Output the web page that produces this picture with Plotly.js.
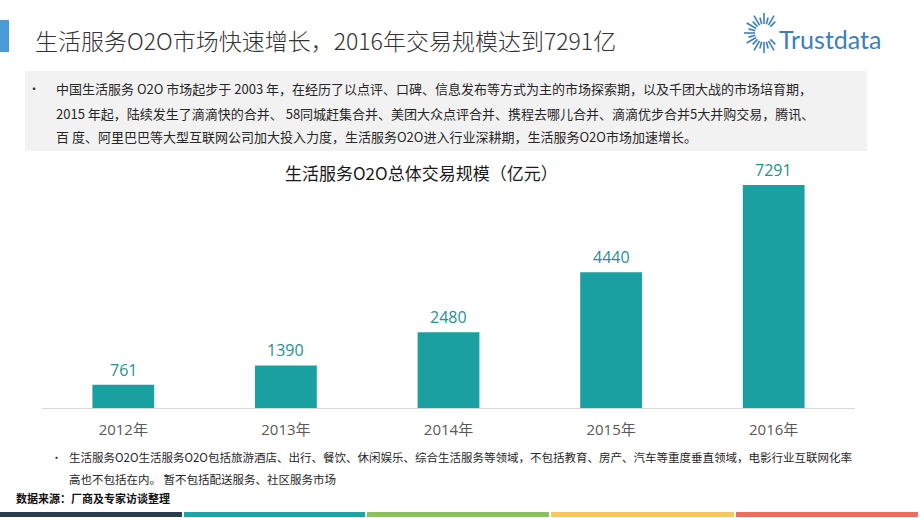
<!DOCTYPE html>
<html>
<head>
<meta charset="utf-8">
<script src="https://cdn.plot.ly/plotly-3.0.1.min.js"></script>
<style>html,body{margin:0;padding:0;background:#fff;}#chart{width:920px;height:518px;}</style>
</head>
<body>
<div id="chart"></div>
<script>
// ---- data ----
const years = ["2012年", "2013年", "2014年", "2015年", "2016年"];
const values = [761, 1390, 2480, 4440, 7291];
const valueLabels = ["761", "1390", "2480", "4440", "7291"];

const pageTitle = "生活服务O2O市场快速增长，2016年交易规模达到7291亿";
const chartTitle = "生活服务O2O总体交易规模（亿元）";
const introLines = [
  "中国生活服务 O2O 市场起步于 2003 年，在经历了以点评、口碑、信息发布等方式为主的市场探索期，以及千团大战的市场培育期，",
  "2015 年起，陆续发生了滴滴快的合并、 58同城赶集合并、美团大众点评合并、携程去哪儿合并、滴滴优步合并5大并购交易，腾讯、",
  "百 度、阿里巴巴等大型互联网公司加大投入力度，生活服务O2O进入行业深耕期，生活服务O2O市场加速增长。"
];
const noteLines = [
  "生活服务O2O生活服务O2O包括旅游酒店、出行、餐饮、休闲娱乐、综合生活服务等领域，不包括教育、房产、汽车等重度垂直领域，电影行业互联网化率",
  "高也不包括在内。 暂不包括配送服务、社区服务市场"
];
const sourceText = "数据来源：厂商及专家访谈整理";
const stripeColors = ["#2d3d4d", "#1ea4a6", "#8bbf68", "#f5c75e", "#ef6e5b"];

// ---- layout helpers (pixel -> paper) ----
const W = 920, H = 518;
const ML = 42, MR = 65, MT = 160, MB = 110;
const PW = W - ML - MR, PH = H - MT - MB;
const X = px => (px - ML) / PW;
const Y = py => (H - MB - py) / PH;

const CJK = "'Noto Sans CJK SC', 'Open Sans', sans-serif";
const NUM = "'Open Sans', 'Noto Sans CJK SC', sans-serif";

const shapes = [];
// header blue marker
shapes.push({type: "rect", xref: "paper", yref: "paper", x0: X(0), x1: X(9), y0: Y(52), y1: Y(20),
  fillcolor: "#4a9bd5", line: {width: 0}, layer: "below"});
// intro gray box
shapes.push({type: "rect", xref: "paper", yref: "paper", x0: X(25), x1: X(867), y0: Y(151), y1: Y(71),
  fillcolor: "#f2f2f2", line: {width: 0}, layer: "below"});
// bottom stripes
const stripeEdges = [0, 184, 367, 551, 736, 920];
for (let i = 0; i < stripeColors.length; i++) {
  shapes.push({type: "rect", xref: "paper", yref: "paper",
    x0: X(stripeEdges[i]), x1: X(stripeEdges[i + 1] - 2), y0: Y(517), y1: Y(512),
    fillcolor: stripeColors[i], line: {width: 0}, layer: "below"});
}
// logo sunburst
const cx = 764, cy = 33;
for (let a = 45; a <= 315; a += 15) {
  const r = a * Math.PI / 180;
  const inner = 9;
  const outer = ((a / 15) % 2 === 0) ? 20 : 16;
  shapes.push({type: "line", xref: "paper", yref: "paper",
    x0: X(cx + inner * Math.cos(r)), y0: Y(cy - inner * Math.sin(r)),
    x1: X(cx + outer * Math.cos(r)), y1: Y(cy - outer * Math.sin(r)),
    line: {color: "#3d7fbb", width: 1.6}});
}

const annotations = [];
annotations.push({xref: "paper", yref: "paper", x: X(33), y: Y(40), xanchor: "left", yanchor: "middle",
  text: pageTitle, showarrow: false, font: {family: CJK, size: 23, weight: 300, color: "#333333"}});
annotations.push({xref: "paper", yref: "paper", x: X(777), y: Y(39), xanchor: "left", yanchor: "middle",
  text: "Trustdata", showarrow: false, font: {family: "'Lato', 'Open Sans', sans-serif", size: 25, color: "#3d7fbb"}});
// intro paragraph
const introY = [89, 113, 136];
annotations.push({xref: "paper", yref: "paper", x: X(34), y: Y(introY[0]), xanchor: "center", yanchor: "middle",
  text: "•", showarrow: false, font: {family: CJK, size: 12, color: "#333"}});
introLines.forEach((t, i) => annotations.push({xref: "paper", yref: "paper", x: X(54), y: Y(introY[i]),
  xanchor: "left", yanchor: "middle", text: t, showarrow: false, font: {family: CJK, size: 13, color: "#262626"}}));
// chart title
annotations.push({xref: "paper", yref: "paper", x: X(421), y: Y(172), xanchor: "center", yanchor: "middle",
  text: chartTitle, showarrow: false, font: {family: CJK, size: 17, color: "#1a1a1a"}});
// value labels
years.forEach((c, i) => annotations.push({xref: "x", yref: "y", x: c, y: values[i], xanchor: "center", yanchor: "bottom",
  yshift: 2, text: valueLabels[i], showarrow: false, font: {family: NUM, size: 16, color: "#2a8f8f"}}));
// notes
const noteY = [457, 479];
annotations.push({xref: "paper", yref: "paper", x: X(56), y: Y(noteY[0]), xanchor: "center", yanchor: "middle",
  text: "•", showarrow: false, font: {family: CJK, size: 11, color: "#333"}});
noteLines.forEach((t, i) => annotations.push({xref: "paper", yref: "paper", x: X(67), y: Y(noteY[i]),
  xanchor: "left", yanchor: "middle", text: t, showarrow: false, font: {family: CJK, size: 11.5, color: "#262626"}}));
annotations.push({xref: "paper", yref: "paper", x: X(14), y: Y(498), xanchor: "left", yanchor: "middle",
  text: "<b>" + sourceText + "</b>", showarrow: false, font: {family: CJK, size: 11, color: "#111"}});

const trace = {
  type: "bar", x: years, y: values,
  marker: {color: "#1ba0a1", line: {width: 0}},
  hoverinfo: "x+y"
};

const layout = {
  width: W, height: H,
  margin: {l: ML, r: MR, t: MT, b: MB, pad: 0},
  paper_bgcolor: "#ffffff", plot_bgcolor: "#ffffff",
  showlegend: false,
  bargap: 0.62,
  xaxis: {
    type: "category", range: [-0.5, 4.5], showgrid: false, zeroline: false,
    showline: true, linecolor: "#d9d9d9", linewidth: 1,
    ticks: "outside", ticklen: 8, tickcolor: "rgba(0,0,0,0)",
    tickfont: {family: NUM, size: 15, color: "#595959"}, fixedrange: true
  },
  yaxis: {
    range: [0, 8109], visible: false, showgrid: false, zeroline: false, fixedrange: true
  },
  shapes: shapes,
  annotations: annotations
};

Plotly.newPlot("chart", [trace], layout, {displayModeBar: false, staticPlot: true});
</script>
</body>
</html>
